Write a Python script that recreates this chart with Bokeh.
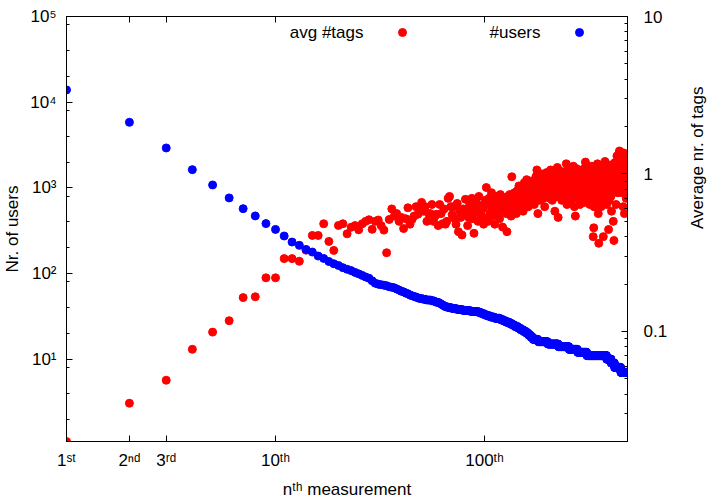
import math
import numpy as np
from bokeh.plotting import figure
from bokeh.models import (Range1d, LogScale, LogAxis, FixedTicker, Label, Legend,
                          LegendItem, ColumnDataSource)
from bokeh.embed import file_html
from bokeh.resources import INLINE

# ---------------- data ----------------
# number of users that reached the n-th measurement (n = 1..48 read individually)
users_head = [13900, 5820, 2920, 1630, 1080, 762, 571, 470, 382, 327,
              274, 233, 213, 191, 178, 160, 150, 138, 130, 124,
              117, 112, 108, 103, 99, 95, 91, 88, 82, 77,
              75, 74, 73, 72, 70, 69, 68, 66, 64, 62,
              61, 59, 58, 56, 55, 54, 53, 52]
# afterwards the integer counts form plateaus: value and how many measurements it lasts
users_tail_value = [51, 50, 49, 48, 47, 46, 45, 44, 43, 42, 41, 40, 39, 38, 37, 36,
                    35, 34, 33, 32, 31, 30, 29, 28, 27, 26, 25, 24, 23, 22, 21, 20,
                    19, 18, 17, 16, 15, 14, 13, 12, 11, 10, 9, 8, 7]
users_tail_run = [2, 2, 3, 2, 1, 2, 1, 1, 1, 1, 2, 3, 4, 5, 7, 8,
                  3, 3, 3, 4, 5, 7, 4, 4, 5, 4, 4, 5, 4, 5, 5, 4,
                  4, 4, 10, 20, 25, 28, 25, 30, 75, 20, 15, 30, 35]

# average number of tags at the n-th measurement (n = 1..483)
avg_tags = [
    0.020, 0.035, 0.049, 0.077, 0.099, 0.117, 0.164, 0.166, 0.219, 0.219,
    0.290, 0.290, 0.279, 0.328, 0.407, 0.407, 0.483, 0.373, 0.327, 0.471,
    0.483, 0.417, 0.459, 0.470, 0.442, 0.483, 0.500, 0.512, 0.445, 0.500,
    0.510, 0.470, 0.440, 0.316, 0.514, 0.600, 0.540, 0.560, 0.500, 0.530,
    0.450, 0.520, 0.610, 0.480, 0.515, 0.540, 0.620, 0.555, 0.600, 0.660,
    0.580, 0.620, 0.500, 0.560, 0.560, 0.640, 0.500, 0.540, 0.555, 0.470,
    0.640, 0.560, 0.483, 0.600, 0.480, 0.500, 0.700, 0.720, 0.620, 0.550,
    0.620, 0.520, 0.480, 0.650, 0.430, 0.580, 0.530, 0.410, 0.600, 0.550,
    0.690, 0.600, 0.470, 0.530, 0.640, 0.570, 0.700, 0.520, 0.420, 0.610,
    0.660, 0.580, 0.500, 0.720, 0.560, 0.630, 0.540, 0.600, 0.480, 0.520,
    0.680, 0.820, 0.640, 0.500, 0.700, 0.560, 0.620, 0.760, 0.540, 0.660,
    0.590, 0.480, 0.720, 0.640, 0.560, 0.680, 0.600, 0.520, 0.740, 0.620,
    0.700, 0.460, 0.660, 0.580, 0.700, 0.640, 0.560, 0.430, 0.720, 0.610,
    0.680, 0.740, 0.600, 0.540, 0.960, 0.660, 0.700, 0.580, 0.760, 0.640,
    0.720, 0.560, 0.780, 0.680, 0.620, 0.840, 0.700, 0.600, 0.760, 0.660,
    0.800, 0.700, 0.580, 0.740, 0.880, 0.640, 0.760, 0.700, 0.920, 0.680,
    0.780, 0.620, 0.840, 0.720, 0.900, 0.760, 0.660, 0.860, 0.740, 0.800,
    0.700, 0.900, 0.640, 0.820, 0.760, 0.960, 0.700, 1.060, 0.780, 0.560,
    0.840, 0.740, 0.920, 0.680, 0.800, 0.880, 0.720, 1.000, 0.780, 0.860,
    0.700, 0.940, 0.760, 0.620, 0.880, 0.820, 0.740, 1.020, 0.800, 0.900,
    0.720, 0.860, 0.780, 0.960, 0.700, 0.840, 1.060, 0.760, 0.920, 0.800,
    0.680, 0.880, 0.780, 1.000, 0.740, 0.860, 0.580, 0.940, 0.820, 0.760,
    0.900, 0.720, 1.100, 0.800, 0.530, 0.860, 0.960, 0.740, 0.880, 0.800,
    1.040, 0.760, 0.900, 0.680, 0.840, 0.900, 0.780, 0.920, 0.720, 0.860,
    0.960, 0.800, 0.700, 1.000, 0.840, 1.160, 0.920, 0.640, 0.880, 1.080,
    0.780, 0.900, 0.820, 0.700, 1.000, 0.860, 0.760, 0.940, 0.660, 0.880,
    1.040, 0.800, 0.720, 0.920, 0.840, 1.120, 0.760, 0.880, 0.620, 0.960,
    0.820, 0.540, 0.740, 0.900, 0.800, 1.080, 0.700, 0.860, 0.940, 0.780,
    1.000, 0.840, 0.720, 0.960, 0.880, 0.640, 1.020, 0.800, 0.900, 0.760,
    1.060, 0.820, 0.940, 0.700, 0.880, 1.000, 0.780, 0.920, 0.840, 0.660,
    0.960, 0.800, 1.100, 1.190, 0.880, 0.880, 0.940, 0.820, 1.020, 0.760,
    0.900, 0.860, 0.840, 1.060, 0.700, 0.920, 0.800, 0.980, 0.640, 0.860,
    0.940, 1.000, 0.780, 0.900, 0.700, 1.120, 0.820, 0.960, 0.780, 0.880,
    0.400, 1.040, 0.455, 0.620, 0.940, 0.800, 1.080, 0.720, 0.900, 0.900,
    0.980, 0.840, 0.680, 1.000, 0.880, 0.760, 1.160, 0.820, 0.920, 0.560,
    0.860, 0.363, 0.740, 0.940, 0.800, 1.100, 0.700, 0.900, 0.840, 0.980,
    0.620, 0.880, 1.060, 0.780, 0.960, 0.660, 0.860, 1.000, 0.720, 0.400,
    0.820, 0.860, 0.940, 1.040, 0.760, 0.880, 1.200, 0.800, 0.980, 0.700,
    0.900, 1.080, 0.840, 0.640, 0.960, 0.780, 1.120, 0.860, 0.920, 0.740,
    1.000, 0.444, 0.940, 0.680, 1.060, 0.880, 0.780, 1.140, 0.900, 0.840,
    0.960, 0.720, 1.020, 0.860, 0.580, 0.940, 1.100, 0.800, 0.920, 1.000,
    0.760, 0.880, 0.500, 0.840, 0.980, 0.378, 1.040, 0.900, 0.820, 1.180,
    0.940, 0.780, 1.080, 0.860, 1.000, 0.640, 1.140, 0.900, 0.960, 1.300,
    0.820, 1.040, 0.880, 1.200, 0.760, 0.980, 1.100, 0.860, 1.340, 0.920,
    1.020, 1.400, 0.800, 1.160, 0.940, 1.060, 1.300, 1.240, 0.880, 1.000,
    1.120, 0.840, 1.300, 0.960, 1.080, 0.760, 1.200, 0.900, 1.040, 0.620,
    1.160, 0.940, 1.360, 0.860, 1.080, 1.000, 0.560, 1.220, 0.900, 1.120,
    0.980, 1.260, 0.820, 1.060, 1.180, 0.700, 0.940, 1.100, 0.880, 1.200,
    0.760, 1.000, 0.900,
]

x_ticks = [1, 2, 3, 10, 100]
x_tick_labels = ["1ˢᵗ", "2ⁿᵈ", "3ʳᵈ", "10ᵗʰ", "100ᵗʰ"]
users_ticks = [10, 100, 1000, 10000, 100000]
users_tick_labels = ["10¹", "10²", "10³", "10⁴", "10⁵"]
tags_ticks = [0.1, 1, 10]
tags_tick_labels = ["0.1", "1", "10"]

users = list(users_head) + list(np.repeat(users_tail_value, users_tail_run))
n_users = np.arange(1, len(users) + 1)
n_tags = np.arange(1, len(avg_tags) + 1)

FONT = "Liberation Sans"
FS = "17px"

p = figure(width=719, height=501, x_axis_type="log", y_axis_type="log",
           x_range=Range1d(1, 483), y_range=Range1d(1.093, 1e5),
           min_border_left=66, min_border_right=92, min_border_top=16,
           min_border_bottom=60, output_backend="svg", toolbar_location=None,
           background_fill_color="white", border_fill_color="white")
p.extra_y_ranges = {"tags": Range1d(0.02, 10)}
p.extra_y_scales = {"tags": LogScale()}
p.xgrid.visible = False
p.ygrid.visible = False
p.outline_line_color = "black"
p.outline_line_width = 1

src_tags = ColumnDataSource(dict(n=n_tags, v=avg_tags))
src_users = ColumnDataSource(dict(n=n_users, v=users))
r_tags = p.scatter("n", "v", source=src_tags, y_range_name="tags", size=8,
                   marker="circle", fill_color="#ff0000", line_color="#ff0000")
r_users = p.scatter("n", "v", source=src_users, size=8, marker="circle",
                    fill_color="#0000ff", line_color="#0000ff")


def style(ax):
    ax.major_label_text_font = FONT
    ax.major_label_text_font_size = FS
    ax.major_label_text_color = "black"
    ax.axis_label_text_font = FONT
    ax.axis_label_text_font_size = FS
    ax.axis_label_text_font_style = "normal"
    ax.axis_label_text_color = "black"
    ax.axis_line_color = "black"
    ax.major_tick_line_color = "black"
    ax.minor_tick_line_color = "black"
    ax.major_tick_in = 6
    ax.major_tick_out = 0
    ax.minor_tick_in = 3
    ax.minor_tick_out = 0


def key_label(text, x, y):
    return Label(x=x, y=y, x_units="screen", y_units="screen", text=text,
                 text_font=FONT, text_font_size=FS, text_color="black",
                 text_align="right", text_baseline="middle")


xa = p.xaxis[0]
style(xa)
xa.ticker = FixedTicker(ticks=x_ticks, minor_ticks=[])
xa.major_label_overrides = {t: l for t, l in zip(x_ticks, x_tick_labels)}
xa.axis_label = "nᵗʰ measurement"
xa.major_label_standoff = 9
xa.axis_label_standoff = 7

ya = p.yaxis[0]
style(ya)
minor_users = [m * 10 ** k for k in range(0, 5) for m in (2, 4, 8)]
ya.ticker = FixedTicker(ticks=users_ticks, minor_ticks=minor_users)
ya.major_label_overrides = {t: l for t, l in zip(users_ticks, users_tick_labels)}
ya.axis_label = "Nr. of users"
ya.major_label_standoff = 10
ya.axis_label_standoff = 5

top = LogAxis(ticker=FixedTicker(ticks=x_ticks, minor_ticks=[]))
style(top)
top.major_label_overrides = {t: "" for t in x_ticks}
top.major_label_standoff = 0
p.add_layout(top, "above")

minor_tags = [m * 10 ** k for k in (-2, -1, 0) for m in range(2, 10)]
ra = LogAxis(y_range_name="tags",
             ticker=FixedTicker(ticks=tags_ticks, minor_ticks=minor_tags))
style(ra)
ra.major_label_overrides = {t: l for t, l in zip(tags_ticks, tags_tick_labels)}
ra.major_label_standoff = 16
ra.axis_label = "Average nr. of tags"
ra.axis_label_standoff = 27
ra.axis_label_orientation = math.pi / 2
p.add_layout(ra, "right")

# key (gnuplot style: text then sample), positions relative to the frame
p.add_layout(key_label("avg #tags", 297, 409))
p.add_layout(key_label("#users", 474, 409))
for r, loc in ((r_tags, (326, 399)), (r_users, (503, 399))):
    lg = Legend(items=[LegendItem(label=" ", renderers=[r])], location=loc,
                padding=0, margin=0, spacing=0, label_standoff=0,
                glyph_width=20, glyph_height=20, border_line_color=None,
                background_fill_alpha=0, label_text_font_size="1px")
    p.add_layout(lg, "center")

open("out.html", "w").write(file_html(p, INLINE))
